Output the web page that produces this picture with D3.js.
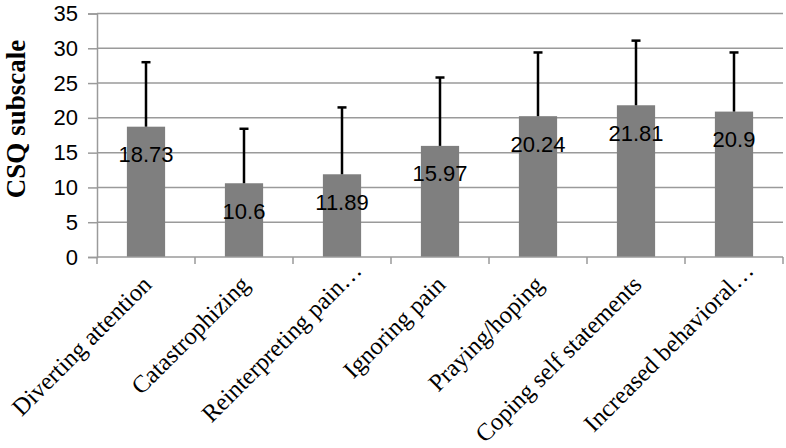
<!DOCTYPE html>
<html><head><meta charset="utf-8">
<script src="https://cdn.jsdelivr.net/npm/d3@7"></script>
<style>
html,body{margin:0;padding:0;background:#fff;}
svg{display:block;}
</style></head>
<body>
<svg id="chart" width="786" height="448"></svg>
<script>
const categories = ["Diverting attention","Catastrophizing","Reinterpreting pain…","Ignoring pain","Praying/hoping","Coping self statements","Increased behavioral…"];
const means = [18.73,10.6,11.89,15.97,20.24,21.81,20.9];
const sds = [9.27,7.83,9.61,9.83,9.16,9.29,8.5];
const yTicks = [0,5,10,15,20,25,30,35];
const yTitle = "CSQ subscale";

(function () {
const svg = d3.select("#chart");
const mLeft = 97, mRight = 783, mTop = 13.5, mBottom = 257;

const x = d3.scaleBand().domain(categories).range([mLeft, mRight]).paddingInner(0.61).paddingOuter(0.305);
const y = d3.scaleLinear().domain([0, 35]).range([mBottom, mTop]);

// gridlines
svg.append("g").selectAll("line").data(yTicks.filter(d => d > 0)).join("line")
  .attr("x1", mLeft).attr("x2", mRight)
  .attr("y1", d => y(d)).attr("y2", d => y(d))
  .attr("stroke", "#9a9a9a").attr("stroke-width", 1.5);

// y axis
const yAxis = d3.axisLeft(y).tickValues(yTicks).tickSize(9).tickPadding(10).tickFormat(d3.format("d"));
const gy = svg.append("g").attr("transform", `translate(${mLeft},0)`).call(yAxis);
gy.select(".domain").attr("stroke", "#9a9a9a").attr("stroke-width", 1.5);
gy.selectAll(".tick line").attr("stroke", "#9a9a9a").attr("stroke-width", 1.5);
gy.selectAll(".tick text").attr("font-family", "Liberation Sans, Arial, sans-serif").attr("font-size", 22).attr("fill", "#000");

// bars
svg.append("g").selectAll("rect").data(categories).join("rect")
  .attr("x", d => x(d)).attr("width", x.bandwidth())
  .attr("y", (d, i) => y(means[i])).attr("height", (d, i) => y(0) - y(means[i]))
  .attr("fill", "#7f7f7f");

// x axis line + ticks at band boundaries
const step = x.step();
const bounds = d3.range(categories.length + 1).map(i => mLeft + i * step);
svg.append("line").attr("x1", mLeft).attr("x2", mRight).attr("y1", mBottom).attr("y2", mBottom)
  .attr("stroke", "#9a9a9a").attr("stroke-width", 1.5);
svg.append("g").selectAll("line").data(bounds).join("line")
  .attr("x1", d => d).attr("x2", d => d).attr("y1", mBottom).attr("y2", mBottom + 7)
  .attr("stroke", "#9a9a9a").attr("stroke-width", 1.5);

// error bars
const eb = svg.append("g").attr("stroke", "#000").attr("stroke-width", 2.5);
categories.forEach((c, i) => {
  const cx = x(c) + x.bandwidth() / 2;
  eb.append("line").attr("x1", cx).attr("x2", cx).attr("y1", y(means[i])).attr("y2", y(means[i] + sds[i]));
  eb.append("line").attr("x1", cx - 4.5).attr("x2", cx + 4.5).attr("y1", y(means[i] + sds[i])).attr("y2", y(means[i] + sds[i]));
});

// value labels
svg.append("g").selectAll("text").data(categories).join("text")
  .attr("x", d => x(d) + x.bandwidth() / 2)
  .attr("y", (d, i) => y(means[i]) + 28)
  .attr("text-anchor", "middle").attr("dominant-baseline", "central")
  .attr("font-family", "Liberation Sans, Arial, sans-serif").attr("font-size", 22).attr("fill", "#000")
  .text((d, i) => String(means[i]));

// x labels
svg.append("g").selectAll("text").data(categories).join("text")
  .attr("transform", d => {
    const ex = d.endsWith("…") ? 14 : 0;
    return `translate(${x(d) + x.bandwidth() / 2 + 7 + ex},${mBottom + 29 - ex}) rotate(-45)`;
  })
  .attr("text-anchor", "end")
  .attr("font-family", "Liberation Serif, Times New Roman, serif").attr("font-size", 24.5).attr("fill", "#000")
  .text(d => d);

// y title
svg.append("text")
  .attr("transform", `translate(25,119) rotate(-90)`)
  .attr("text-anchor", "middle")
  .attr("font-family", "Liberation Serif, Times New Roman, serif").attr("font-weight", "bold").attr("font-size", 27).attr("fill", "#000")
  .text(yTitle);
})();
</script>
</body></html>
